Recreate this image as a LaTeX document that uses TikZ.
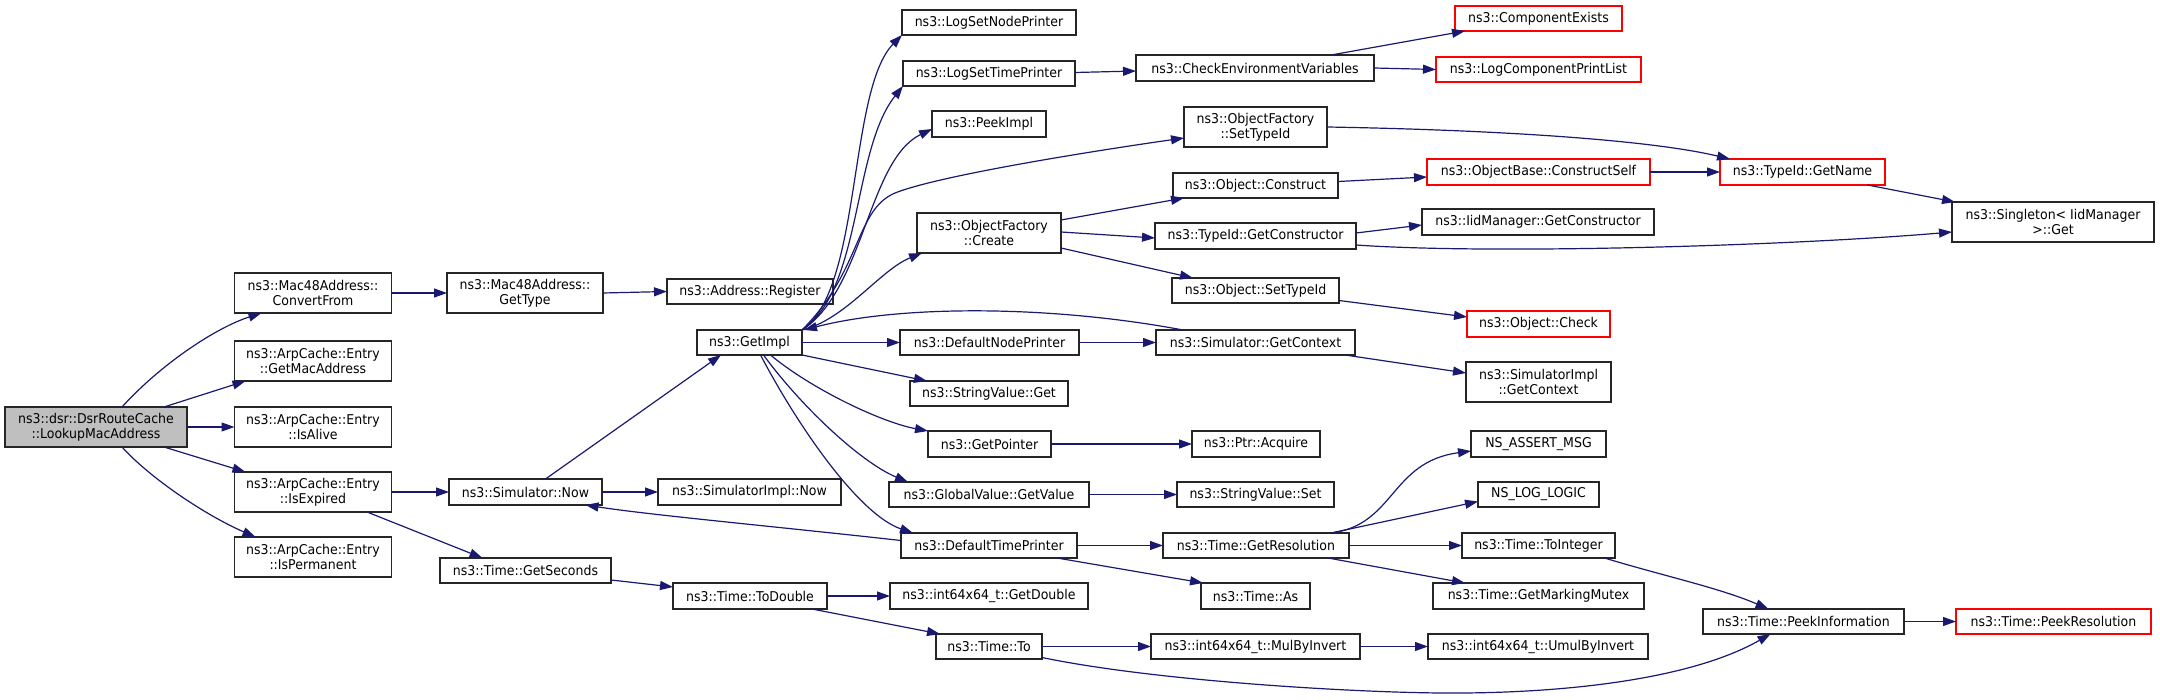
\documentclass[tikz,border=0pt]{standalone}
\usepackage{fontspec}
\setmainfont{DejaVu Sans}[FakeStretch=0.93]
\usetikzlibrary{arrows.meta}
\definecolor{edgecol}{HTML}{191970}
\definecolor{grayfill}{HTML}{BFBFBF}
\definecolor{redline}{HTML}{FF0000}
\newcommand{\dfont}{\fontsize{13.5pt}{15pt}\selectfont}
\tikzset{
  box/.style={draw=black!85, line width=1.3pt, inner sep=0pt, outer sep=0pt, align=center, font=\dfont, fill=white},
  redbox/.style={box, draw=redline},
  graybox/.style={box, fill=grayfill},
  conn/.style={draw=edgecol, line width=1.2pt, -{Triangle[length=13pt,width=9pt]}},
}
\begin{document}
\begin{tikzpicture}[x=1pt,y=-1pt]
\useasboundingbox (0,0) rectangle (2160,700);
% nodes
\node[graybox, minimum width=182pt, minimum height=40pt] (A) at (96,427) {ns3::dsr::DsrRouteCache\\::LookupMacAddress};
\node[box, minimum width=157pt, minimum height=40pt] (B) at (313,293) {ns3::Mac48Address::\\ConvertFrom};
\node[box, minimum width=157pt, minimum height=40pt] (C) at (313,361) {ns3::ArpCache::Entry\\::GetMacAddress};
\node[box, minimum width=157pt, minimum height=40pt] (D) at (313,427) {ns3::ArpCache::Entry\\::IsAlive};
\node[box, minimum width=157pt, minimum height=40pt] (E) at (313,492) {ns3::ArpCache::Entry\\::IsExpired};
\node[box, minimum width=157pt, minimum height=40pt] (F) at (313,557) {ns3::ArpCache::Entry\\::IsPermanent};
\node[box, minimum width=156pt, minimum height=40pt] (G) at (525,293) {ns3::Mac48Address::\\GetType};
\node[box, minimum width=166pt, minimum height=25pt] (H) at (750,291.5) {ns3::Address::Register};
\node[box, minimum width=153pt, minimum height=26pt] (I) at (525.5,492) {ns3::Simulator::Now};
\node[box, minimum width=171pt, minimum height=25pt] (J) at (525.5,570.5) {ns3::Time::GetSeconds};
\node[box, minimum width=183pt, minimum height=26pt] (K) at (749.5,492) {ns3::SimulatorImpl::Now};
\node[box, minimum width=154pt, minimum height=26pt] (L) at (750,596) {ns3::Time::ToDouble};
\node[box, minimum width=105pt, minimum height=25pt] (M) at (749.5,342.5) {ns3::GetImpl};
\node[box, minimum width=174pt, minimum height=25pt] (N) at (989,22.5) {ns3::LogSetNodePrinter};
\node[box, minimum width=172pt, minimum height=25pt] (O) at (989,73.5) {ns3::LogSetTimePrinter};
\node[box, minimum width=114pt, minimum height=26pt] (P) at (989,124) {ns3::PeekImpl};
\node[box, minimum width=144pt, minimum height=40pt] (Q) at (989,233) {ns3::ObjectFactory\\::Create};
\node[box, minimum width=179pt, minimum height=25pt] (R) at (989.5,342.5) {ns3::DefaultNodePrinter};
\node[box, minimum width=158pt, minimum height=25pt] (S) at (989,393.5) {ns3::StringValue::Get};
\node[box, minimum width=123pt, minimum height=26pt] (T) at (989.5,444) {ns3::GetPointer};
\node[box, minimum width=200pt, minimum height=25pt] (U) at (989,494.5) {ns3::GlobalValue::GetValue};
\node[box, minimum width=176pt, minimum height=25pt] (V) at (989,545.5) {ns3::DefaultTimePrinter};
\node[box, minimum width=198pt, minimum height=26pt] (W) at (989,596) {ns3::int64x64\_t::GetDouble};
\node[box, minimum width=106pt, minimum height=25pt] (X) at (989,646.5) {ns3::Time::To};
\node[box, minimum width=238pt, minimum height=26pt] (Y) at (1255,68) {ns3::CheckEnvironmentVariables};
\node[box, minimum width=143pt, minimum height=40pt] (Z) at (1255.5,127) {ns3::ObjectFactory\\::SetTypeId};
\node[box, minimum width=165pt, minimum height=25pt] (AA) at (1255.5,185.5) {ns3::Object::Construct};
\node[box, minimum width=201pt, minimum height=26pt] (AB) at (1255.5,236) {ns3::TypeId::GetConstructor};
\node[box, minimum width=167pt, minimum height=25pt] (AC) at (1255.5,290.5) {ns3::Object::SetTypeId};
\node[box, minimum width=199pt, minimum height=25pt] (AD) at (1255.5,342.5) {ns3::Simulator::GetContext};
\node[box, minimum width=128pt, minimum height=26pt] (AE) at (1256,444) {ns3::Ptr::Acquire};
\node[box, minimum width=157pt, minimum height=25pt] (AF) at (1255.5,494.5) {ns3::StringValue::Set};
\node[box, minimum width=186pt, minimum height=25pt] (AG) at (1256,545.5) {ns3::Time::GetResolution};
\node[box, minimum width=109pt, minimum height=26pt] (AH) at (1255.5,596) {ns3::Time::As};
\node[box, minimum width=209pt, minimum height=25pt] (AI) at (1255.5,646.5) {ns3::int64x64\_t::MulByInvert};
\node[redbox, minimum width=167pt, minimum height=25pt] (AJ) at (1538.5,18.5) {ns3::ComponentExists};
\node[redbox, minimum width=205pt, minimum height=25pt] (AK) at (1538.5,69.5) {ns3::LogComponentPrintList};
\node[redbox, minimum width=223pt, minimum height=26pt] (AL) at (1538.5,172) {ns3::ObjectBase::ConstructSelf};
\node[box, minimum width=232pt, minimum height=26pt] (AM) at (1538,222) {ns3::IidManager::GetConstructor};
\node[redbox, minimum width=143pt, minimum height=26pt] (AN) at (1538.5,324) {ns3::Object::Check};
\node[box, minimum width=145pt, minimum height=40pt] (AO) at (1538.5,382) {ns3::SimulatorImpl\\::GetContext};
\node[box, minimum width=135pt, minimum height=26pt] (AP) at (1538.5,444) {NS\_ASSERT\_MSG};
\node[box, minimum width=121pt, minimum height=25pt] (AQ) at (1538.5,494.5) {NS\_LOG\_LOGIC};
\node[box, minimum width=153pt, minimum height=25pt] (AR) at (1538.5,545.5) {ns3::Time::ToInteger};
\node[box, minimum width=211pt, minimum height=26pt] (AS) at (1538.5,596) {ns3::Time::GetMarkingMutex};
\node[box, minimum width=220pt, minimum height=25pt] (AT) at (1538,646.5) {ns3::int64x64\_t::UmulByInvert};
\node[redbox, minimum width=165pt, minimum height=26pt] (AU) at (1802.5,172) {ns3::TypeId::GetName};
\node[box, minimum width=201pt, minimum height=25pt] (AV) at (1803.5,621.5) {ns3::Time::PeekInformation};
\node[box, minimum width=202pt, minimum height=40pt] (AW) at (2053,222) {ns3::Singleton< IidManager\\ >::Get};
\node[redbox, minimum width=195pt, minimum height=25pt] (AX) at (2053.5,621.5) {ns3::Time::PeekResolution};
% edges
\draw[conn] ([xshift=26pt]A.north) .. controls (160,365) and (215,328) .. ([xshift=27pt]B.south west);
\draw[conn] ([xshift=68pt]A.north) -- ([xshift=11pt]C.south west);
\draw[conn] (A) -- (D);
\draw[conn] ([xshift=68pt]A.south) -- ([xshift=11pt]E.north west);
\draw[conn] ([xshift=26pt]A.south) .. controls (150,478) and (205,515) .. ([xshift=21pt]F.north west);
\draw[conn] (B) -- (G);
\draw[conn] (G.east) -- (H.west);
\draw[conn] (E) -- (I);
\draw[conn] ([xshift=54pt]E.south) -- ([xshift=-43pt]J.north);
\draw[conn] ([xshift=20pt]I.north) -- ([xshift=24pt]M.south west);
\draw[conn] (I) -- (K);
\draw[conn] ([yshift=-9.5pt]J.east) -- ([yshift=9pt]L.west);
\draw[conn] (L) -- (W);
\draw[conn] ([xshift=62pt]L.south) -- ([xshift=4pt]X.north west);
\draw[conn] (X) -- (AI);
\draw[conn] ([yshift=-11pt]X.east) .. controls (1150,680) and (1340,692) .. (1440,693) .. controls (1560,694) and (1690,680) .. ([xshift=-33pt]AV.south);
\draw[conn] (AI) -- (AT);
\draw[conn] (M.north east) .. controls (862,290) and (848,90) .. (N.south west);
\draw[conn] (M.north east) .. controls (862,290) and (852,150) .. (O.south west);
\draw[conn] (M.north east) .. controls (864,290) and (868,160) .. ([yshift=-5pt]P.west);
\draw[conn] (M.north east) .. controls (862,270) and (855,210) .. (895,193) .. controls (940,175) and (1100,150) .. ([yshift=-11pt]Z.west);
\draw[conn] (M.north east) .. controls (845,320) and (880,270) .. ([xshift=5pt]Q.south west);
\draw[conn] (M) -- (R);
\draw[conn] (M.south east) -- ([xshift=17pt]S.north west);
\draw[conn] ([xshift=21pt]M.south) .. controls (810,388) and (880,422) .. (T.north west);
\draw[conn] ([xshift=14pt]M.south) .. controls (800,405) and (860,462) .. ([xshift=19pt]U.north west);
\draw[conn] ([xshift=11pt]M.south) .. controls (800,430) and (860,515) .. ([xshift=12pt]V.north west);
\draw[conn] ([xshift=27pt]AD.north west) .. controls (1050,305) and (900,305) .. ([xshift=2pt]M.north east);
\draw[conn] ([yshift=5pt]V.west) .. controls (780,527) and (650,515) .. ([xshift=60pt]I.south);
\draw[conn] ([yshift=1pt]O.east) -- ([yshift=-3pt]Y.west);
\draw[conn] ([xshift=76pt]Y.north) -- ([xshift=10pt]AJ.south west);
\draw[conn] (Y.east) -- (AK.west);
\draw[conn] (Z.east) .. controls (1500,130) and (1650,140) .. ([xshift=10pt]AU.north west);
\draw[conn] ([yshift=13pt]Q.east) -- ([xshift=11pt]AA.south west);
\draw[conn] ([yshift=1pt]Q.east) -- ([yshift=-2pt]AB.west);
\draw[conn] ([yshift=-15pt]Q.east) -- ([xshift=21pt]AC.north west);
\draw[conn] ([yshift=4pt]AA.east) -- ([yshift=-5pt]AL.west);
\draw[conn] (AL) -- (AU);
\draw[conn] ([xshift=65pt]AU.south) -- ([xshift=3pt]AW.north west);
\draw[conn] ([yshift=3pt]AB.east) -- ([yshift=-3pt]AM.west);
\draw[conn] ([yshift=-9pt]AB.east) .. controls (1500,255) and (1800,245) .. ([yshift=-10pt]AW.west);
\draw[conn] ([yshift=-10pt]AC.east) -- ([yshift=7pt]AN.west);
\draw[conn] (R) -- (AD);
\draw[conn] ([xshift=-10pt]AD.south east) -- ([yshift=9pt]AO.west);
\draw[conn] (T) -- (AE);
\draw[conn] (U) -- (AF);
\draw[conn] (V) -- (AG);
\draw[conn] ([xshift=68pt]V.south) -- ([xshift=2pt]AH.north west);
\draw[conn] ([xshift=75pt]AG.north) .. controls (1395,525) and (1390,462) .. ([yshift=-7pt]AP.west);
\draw[conn] ([xshift=75pt]AG.north) -- ([yshift=-7pt]AQ.west);
\draw[conn] (AG) -- (AR);
\draw[conn] ([xshift=72pt]AG.south) -- ([xshift=32pt]AS.north west);
\draw[conn] ([xshift=66pt]AR.south) .. controls (1660,575) and (1720,588) .. ([xshift=-35pt]AV.north);
\draw[conn] (AV) -- (AX);
\end{tikzpicture}
\end{document}
